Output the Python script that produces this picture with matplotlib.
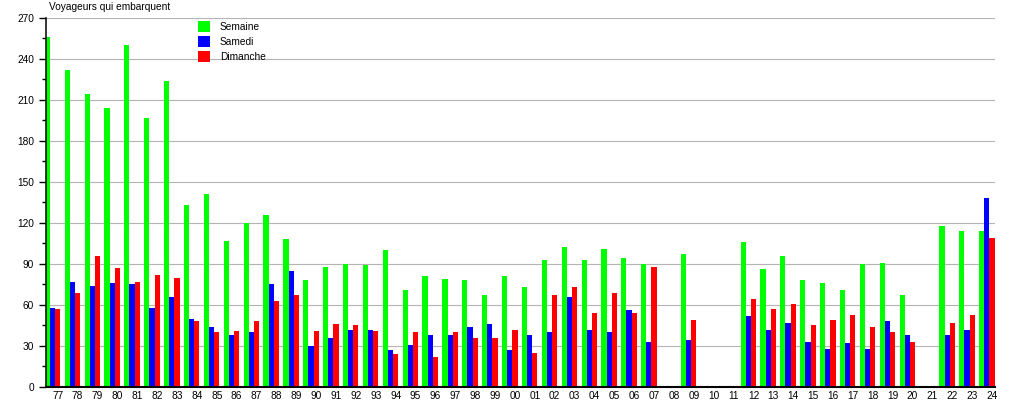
import numpy as np
import matplotlib
matplotlib.use("Agg")
import matplotlib.pyplot as plt

nan = np.nan
years = ["77","78","79","80","81","82","83","84","85","86","87","88","89","90","91","92",
         "93","94","95","96","97","98","99","00","01","02","03","04","05","06","07","08",
         "09","10","11","12","13","14","15","16","17","18","19","20","21","22","23","24"]
semaine = [256,232,214,204,250,197,224,133,141,107,120,126,108,78,88,90,
           89,100,71,81,79,78,67,81,73,93,102,93,101,94,90,nan,
           97,nan,nan,106,86,96,78,76,71,90,91,67,nan,118,114,114]
samedi = [58,77,74,76,75,58,66,50,44,38,40,75,85,30,36,42,
          42,27,31,38,38,44,46,27,38,40,66,42,40,56,33,nan,
          34,nan,nan,52,42,47,33,28,32,28,48,38,nan,38,42,138]
dimanche = [57,69,96,87,77,82,80,48,40,41,48,63,67,41,46,45,
            41,24,40,22,40,36,36,42,25,67,73,54,69,54,88,nan,
            49,nan,nan,64,57,61,45,49,53,44,40,33,nan,47,53,109]
series_names = ["Semaine", "Samedi", "Dimanche"]
colors = ["#00ff00", "#0000ff", "#ff0000"]
title = "Voyageurs qui embarquent"

plt.rcParams['font.family'] = ['Liberation Sans', 'DejaVu Sans']
W, H = 1015, 400
fig = plt.figure(figsize=(W/100, H/100), dpi=100)
ax = fig.add_axes([46/W, 1-387/H, (995-46)/W, (387-17.7)/H])

x = np.arange(len(years))
w = 0.26
offs = [-0.52, -0.26, 0.0]
handles = []
for vals, off, c, name in zip([semaine, samedi, dimanche], offs, colors, series_names):
    b = ax.bar(x + off, np.array(vals, dtype=float), width=w, color=c, linewidth=0, label=name, zorder=2)
    handles.append(b)

ax.set_xlim(-0.59, 47.15)
ax.set_ylim(0, 270)
ax.set_yticks(np.arange(0, 271, 30))
ax.set_yticks(np.arange(15, 271, 30), minor=True)
ax.set_xticks(x)
ax.set_xticklabels(years)
ax.tick_params(axis='x', length=0, pad=3, labelsize=7.3)
ax.tick_params(axis='y', which='major', length=5, width=1, pad=3.6, labelsize=7.3, direction='out')
ax.tick_params(axis='y', which='minor', length=3, width=1, direction='out')
ax.grid(axis='y', which='major', color='#b4b4b4', linewidth=0.8, zorder=0)
ax.set_axisbelow(True)
for s in ['top', 'right']:
    ax.spines[s].set_visible(False)
ax.spines['left'].set_linewidth(1.1)
ax.spines['bottom'].set_linewidth(1.5)

fig.text(49/W, 1-7/H, title, fontsize=7.3, ha='left', va='center')

fs = 7.3 * 100 / 72
ax.legend(handles=handles, loc='upper left', bbox_to_anchor=(198/W, 1-21.5/H),
          bbox_transform=fig.transFigure, frameon=False, fontsize=7.3,
          handlelength=12.4/fs, handleheight=13/fs, handletextpad=9.3/fs,
          labelspacing=4/fs, borderpad=0, borderaxespad=0)

fig.savefig("out.png", dpi=100)
